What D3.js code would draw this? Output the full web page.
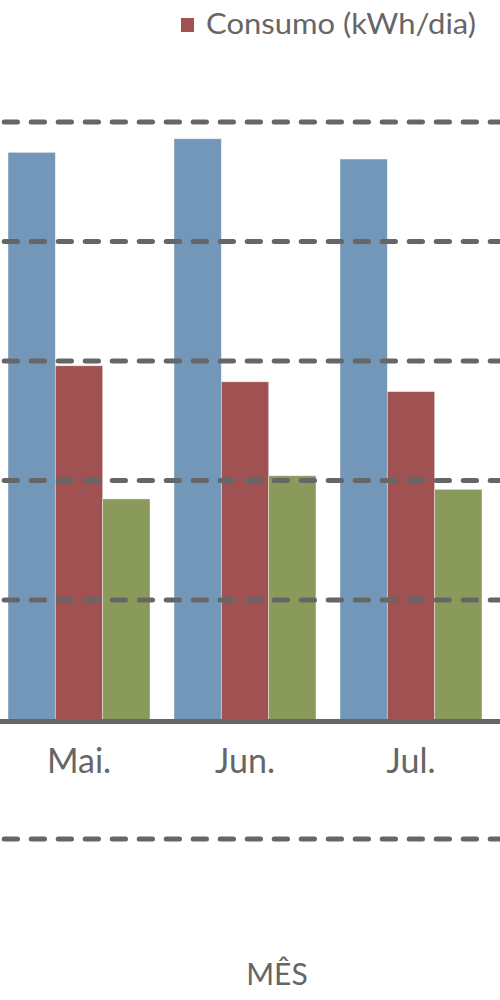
<!DOCTYPE html>
<html><head><meta charset="utf-8">
<script src="https://cdn.jsdelivr.net/npm/d3@7"></script>
<style>html,body{margin:0;padding:0;background:#fff;}</style>
</head><body>
<svg id="c" width="500" height="1000"></svg>
<script>
const months = ["Mai.", "Jun.", "Jul."];
const seriesNames = ["Série A", "Consumo (kWh/dia)", "Série C"];
const seriesA = [23.73, 24.3, 23.45];
const seriesB = [14.8, 14.13, 13.72];
const seriesC = [9.23, 10.2, 9.63];
const gridTicks = [-5, 5, 10, 15, 20, 25];
const colors = ["#7397B8", "#A05252", "#8A9A5A"];
const legendSeries = [1];
const xTitle = "MÊS";

const svg = d3.select("#c");
const font = "Lato, 'Open Sans', sans-serif";
const txt = "#666666";

const x0 = d3.scaleBand().domain(months).range([-4, 494]).paddingInner(0.1446).paddingOuter(0.0723);
const x1 = d3.scaleBand().domain([0,1,2]).range([0, x0.bandwidth()]);
const y = d3.scaleLinear().domain([-5, 25]).range([839, 122]);

const all = [seriesA, seriesB, seriesC];
const g = svg.append("g");
months.forEach((m, i) => {
  all.forEach((s, k) => {
    g.append("rect")
      .attr("x", x0(m) + x1(k))
      .attr("y", y(s[i]))
      .attr("width", x1.bandwidth())
      .attr("height", y(0) - y(s[i]))
      .attr("fill", colors[k])
      .attr("stroke", "rgba(255,255,255,0.5)")
      .attr("stroke-width", 0.8);
  });
});

// gridlines on top
svg.append("g").selectAll("line").data(gridTicks).join("line")
  .attr("x1", 4.2).attr("x2", 500)
  .attr("y1", d => y(d)).attr("y2", d => y(d))
  .attr("stroke", "#666666").attr("stroke-width", 5)
  .attr("stroke-linecap", "round")
  .attr("stroke-dasharray", "13.3,13.7");

// baseline
svg.append("line").attr("x1", 0).attr("x2", 500)
  .attr("y1", y(0) + 2).attr("y2", y(0) + 2)
  .attr("stroke", "#666666").attr("stroke-width", 5);

// x labels
svg.append("g").selectAll("text").data(months).join("text")
  .attr("x", d => x0(d) + x0.bandwidth() / 2)
  .attr("y", 773)
  .attr("text-anchor", "middle")
  .attr("font-family", font).attr("font-size", 34)
  .attr("fill", txt)
  .text(d => d);

// axis title
svg.append("text").attr("x", 277).attr("y", 985)
  .attr("text-anchor", "middle")
  .attr("font-family", font).attr("font-size", 30)
  .attr("fill", txt).text(xTitle);

// legend
legendSeries.forEach(k => {
  svg.append("rect").attr("x", 181).attr("y", 18).attr("width", 13).attr("height", 14)
    .attr("fill", colors[k]);
  svg.append("text").attr("x", 206).attr("y", 34)
    .attr("font-family", font).attr("font-size", 29)
    .attr("fill", txt)
    .attr("textLength", 270).attr("lengthAdjust", "spacingAndGlyphs")
    .text(seriesNames[k]);
});
</script>
</body></html>
